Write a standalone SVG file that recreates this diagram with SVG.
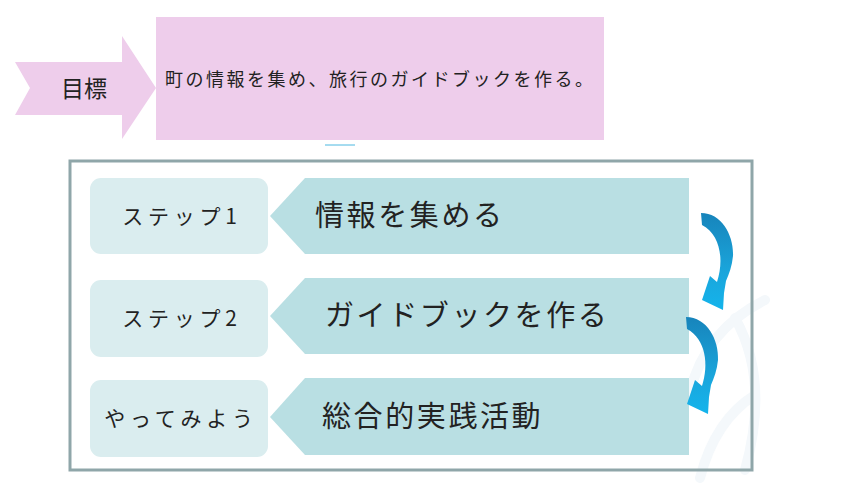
<svg xmlns="http://www.w3.org/2000/svg" width="860" height="484" viewBox="0 0 860 484">
<defs>
<style>
.jp{font-family:"Noto Sans CJK JP","Noto Sans CJK SC",sans-serif;fill:#222;}
.goal{font-size:18px;letter-spacing:2.5px;}
.step{font-size:21px;letter-spacing:4.8px;text-anchor:middle;}
.big{font-size:29px;letter-spacing:2.6px;}
.stepbox{fill:#DAEDEF;}
.penta{fill:#B9DFE3;}
.wm{fill:none;stroke:#F4F8FB;stroke-width:10;stroke-linecap:round;}
</style>
<linearGradient id="ag" x1="0" y1="0" x2="0" y2="1">
<stop offset="0" stop-color="#1784BB"/>
<stop offset="0.6" stop-color="#1AA5DB"/>
<stop offset="1" stop-color="#14B4EC"/>
</linearGradient>
<path id="carrow" d="M701,213 C722,213 734,236 733,256 C732,266 729,274 726,281 L724,293 L723,310 L702,300 L710,276 L717,282 C724,261 721,235 702,225 Z"/>
</defs>
<rect width="860" height="484" fill="#fff"/>
<g id="watermark">
<path class="wm" d="M765,300 Q705,330 690,392"/>
<path class="wm" d="M755,395 Q715,420 700,478"/>
<path class="wm" d="M735,318 Q770,380 745,470"/>
</g>
<g id="goal-label">
<polygon points="15,62 122,62 122,36 156,88 122,139 122,115 15,115 30,88" fill="#EECDEB"/>
<text class="jp" x="84" y="97" font-size="23" text-anchor="middle">目標</text>
</g>
<g id="goal-box">
<rect x="156" y="17" width="448" height="123" fill="#EECDEB"/>
<text class="jp goal" x="165" y="86">町の情報を集め、旅行のガイドブックを作る。</text>
</g>
<line x1="325" y1="145" x2="355" y2="145" stroke="#4DB8E0" stroke-width="1"/>
<g id="frame">
<rect x="70" y="161" width="682" height="309" fill="none" stroke="#8FA6A9" stroke-width="3"/>
</g>
<g id="step1">
<rect class="stepbox" x="90" y="178" width="178" height="76" rx="11"/>
<text class="jp step" x="182" y="224">ステップ1</text>
</g>
<g id="task1">
<polygon class="penta" points="270,216 305,178 689,178 689,254 305,254"/>
<text class="jp big" x="315" y="226">情報を集める</text>
</g>
<g id="step2">
<rect class="stepbox" x="90" y="280" width="178" height="77" rx="11"/>
<text class="jp step" x="182" y="326">ステップ2</text>
</g>
<g id="task2">
<polygon class="penta" points="270,316 305,278 689,278 689,354 305,354"/>
<text class="jp big" x="325" y="326">ガイドブックを作る</text>
</g>
<g id="step3">
<rect class="stepbox" x="90" y="380" width="178" height="77" rx="11"/>
<text class="jp step" x="181" y="426">やってみよう</text>
</g>
<g id="task3">
<polygon class="penta" points="270,417 305,378 689,378 689,455 305,455"/>
<text class="jp big" x="322" y="427">総合的実践活動</text>
</g>
<g id="connectors" fill="url(#ag)">
<use href="#carrow"/>
<use href="#carrow" transform="translate(-15,104)"/>
</g>
</svg>
